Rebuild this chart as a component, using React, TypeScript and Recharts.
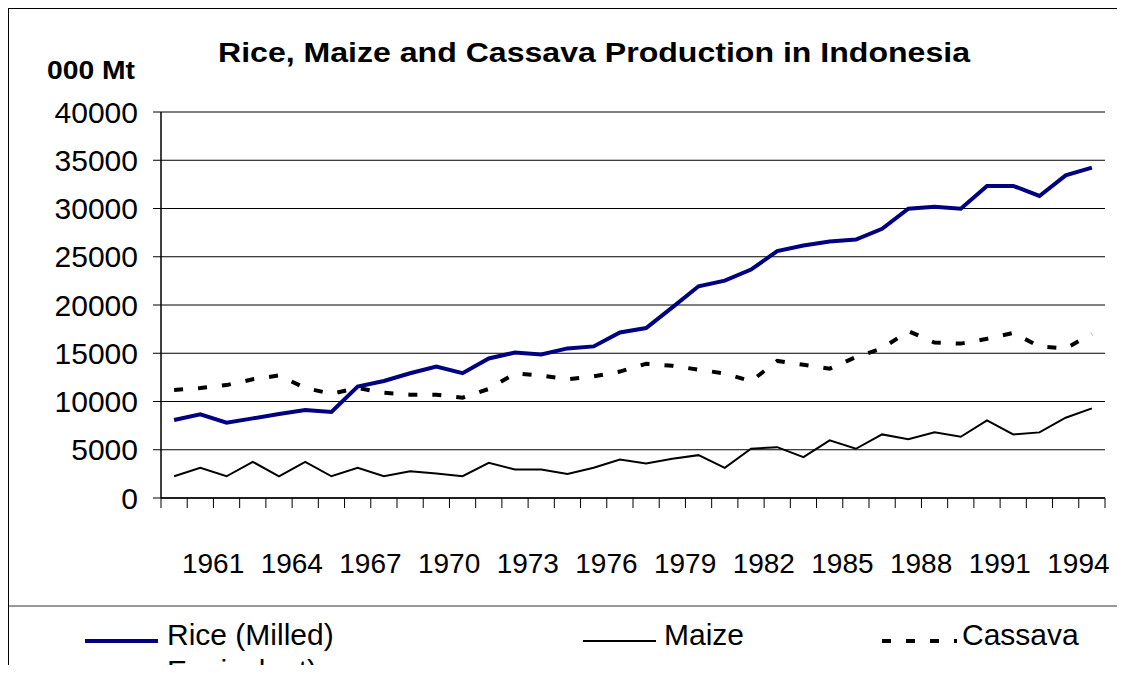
import React from "react";
import { LineChart, Line, XAxis, YAxis, CartesianGrid } from "recharts";

// categories (years) and production in thousand tonnes
const years = [
  "1961", "1962", "1963", "1964", "1965", "1966", "1967", "1968", "1969",
  "1970", "1971", "1972", "1973", "1974", "1975", "1976", "1977", "1978",
  "1979", "1980", "1981", "1982", "1983", "1984", "1985", "1986", "1987",
  "1988", "1989", "1990", "1991", "1992", "1993", "1994", "1995", "1996",
];

const rice = [
  8080, 8670, 7810, 8250, 8700, 9120, 8910, 11550, 12130, 12930, 13630, 12930,
  14460, 15080, 14870, 15500, 15710, 17160, 17610, 19760, 21940, 22530, 23670,
  25580, 26170, 26580, 26790, 27900, 29980, 30190, 29980, 32340, 32340, 31300,
  33440, 34240,
];

const maize = [
  2250, 3130, 2250, 3750, 2250, 3750, 2250, 3130, 2250, 2780, 2540, 2260, 3650,
  2950, 2950, 2500, 3130, 3990, 3580, 4060, 4440, 3130, 5100, 5270, 4230, 5970,
  5100, 6590, 6100, 6800, 6350, 8050, 6590, 6800, 8320, 9290,
];

const cassava = [
  11200, 11400, 11700, 12300, 12700, 11400, 10800, 11400, 10900, 10700, 10700,
  10400, 11300, 12900, 12700, 12300, 12600, 13100, 13900, 13700, 13300, 12900,
  12100, 14200, 13800, 13400, 14600, 15500, 17300, 16100, 16000, 16500, 17100,
  15700, 15500, 17000,
];

const yTicks = [0, 5000, 10000, 15000, 20000, 25000, 30000, 35000, 40000];

const rows = years.map((year, i) => ({
  year,
  rice: rice[i],
  maize: maize[i],
  cassava: cassava[i],
}));

const FONT = "'Liberation Sans', Arial, sans-serif";
const PLOT_W = 944;
const HALF = PLOT_W / years.length / 2;

function YearTick(props: any) {
  const { x, y, index } = props;
  const axisY = y - 10;
  const last = index === years.length - 1;
  return (
    <g>
      <line x1={x - HALF} x2={x - HALF} y1={axisY} y2={y} stroke="#000" />
      {last && <line x1={x + HALF} x2={x + HALF} y1={axisY} y2={y} stroke="#000" />}
      {index % 3 === 0 && (
        <text
          x={x + 39}
          y={y + 65}
          textAnchor="middle"
          fontSize={28}
          fontFamily={FONT}
          fill="#000"
        >
          {years[index]}
        </text>
      )}
    </g>
  );
}

export default function App() {
  return (
    <div
      style={{
        position: "relative",
        width: 1117,
        height: 665,
        marginBottom: -8,
        overflow: "hidden",
        borderLeft: "1px solid #000",
        borderTop: "1px solid #000",
        boxSizing: "border-box",
        background: "#fff",
        fontFamily: FONT,
      }}
    >
      <LineChart
        width={1116}
        height={664}
        data={rows}
        margin={{ top: 103, right: 20, bottom: 95, left: 92 }}
      >
        <CartesianGrid vertical={false} stroke="#000" strokeWidth={1} />
        <XAxis
          dataKey="year"
          interval={0}
          padding={{ left: HALF, right: HALF }}
          height={80}
          tickSize={10}
          tickMargin={0}
          tickLine={false}
          axisLine={{ stroke: "#000", strokeWidth: 1.5 }}
          tick={<YearTick />}
        />
        <XAxis
          xAxisId="top"
          orientation="top"
          dataKey="year"
          height={0}
          tick={false}
          tickLine={false}
          axisLine={{ stroke: "#8a8a6e", strokeWidth: 2 }}
        />
        <YAxis
          domain={[0, 40000]}
          ticks={yTicks}
          interval={0}
          width={60}
          tickSize={8}
          tickMargin={15}
          axisLine={{ stroke: "#000", strokeWidth: 1.5 }}
          tickLine={{ stroke: "#000" }}
          tick={{ fontSize: 30, fill: "#000", fontFamily: FONT }}
        />
        <YAxis
          yAxisId="right"
          orientation="right"
          width={0}
          tick={false}
          tickLine={false}
          axisLine={{ stroke: "#8a8a6e", strokeWidth: 2 }}
        />
        <Line
          dataKey="maize"
          stroke="#000"
          strokeWidth={2}
          dot={false}
          activeDot={false}
          isAnimationActive={false}
        />
        <Line
          dataKey="cassava"
          stroke="#000"
          strokeWidth={4}
          strokeDasharray="9 15"
          dot={false}
          activeDot={false}
          isAnimationActive={false}
        />
        <Line
          dataKey="rice"
          stroke="#000080"
          strokeWidth={4}
          dot={false}
          activeDot={false}
          isAnimationActive={false}
        />
      </LineChart>

      <svg
        width={1116}
        height={664}
        style={{ position: "absolute", left: 0, top: 0, pointerEvents: "none" }}
        fontFamily={FONT}
      >
        <text
          x={585}
          y={53}
          textAnchor="middle"
          fontSize={27}
          fontWeight="bold"
          textLength={752}
          lengthAdjust="spacingAndGlyphs"
        >
          Rice, Maize and Cassava Production in Indonesia
        </text>
        <text x={38} y={70} fontSize={25} fontWeight="bold" textLength={88} lengthAdjust="spacingAndGlyphs">
          000 Mt
        </text>

        <line x1={0} x2={1116} y1={597} y2={597} stroke="#777" strokeWidth={1.5} />

        <line x1={76} x2={149} y1={632} y2={632} stroke="#000080" strokeWidth={4} />
        <text x={158} y={636} fontSize={30}>Rice (Milled)</text>
        <text x={158} y={672} fontSize={30}>Equivalent)</text>

        <line x1={574} x2={647} y1={632} y2={632} stroke="#000" strokeWidth={2} />
        <text x={655} y={636} fontSize={30}>Maize</text>

        <line x1={873} x2={948} y1={632} y2={632} stroke="#000" strokeWidth={4} strokeDasharray="9 15" />
        <text x={953} y={636} fontSize={30}>Cassava</text>
      </svg>
    </div>
  );
}
